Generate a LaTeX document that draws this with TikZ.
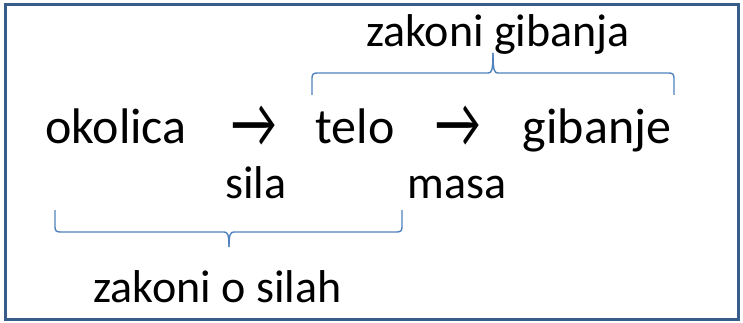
\documentclass[tikz,border=0pt]{standalone}
\usepackage{fontspec}
\usepackage{graphicx}
\setmainfont{Carlito}
\definecolor{frame}{RGB}{56,93,138}
\definecolor{brace}{RGB}{79,129,189}
\tikzset{
  big/.style={inner sep=0pt, anchor=base, font=\fontsize{50}{60}\selectfont},
  arrowsym/.style={inner sep=0pt, anchor=center, font=\fontsize{50}{60}\selectfont},
  small/.style={inner sep=0pt, anchor=base, font=\fontsize{46}{54}\selectfont},
  bracepath/.style={draw=brace, line width=1.4pt, line join=round}
}
\begin{document}
\begin{tikzpicture}[x=1pt,y=-1pt]
\useasboundingbox (0,0) rectangle (743,323);
\draw[frame, line width=3pt] (5,4.5) rectangle (738.5,319.5);
% main line
\node[big] (okolica) at (116,143) {okolica};
\node[arrowsym] (arr1) at (254,127) {\scalebox{1}[1.45]{→}};
\node[big] (telo) at (355,143) {telo};
\node[arrowsym] (arr2) at (458,127) {\scalebox{1}[1.45]{→}};
\node[big] (gibanje) at (597,143) {gibanje};
% labels
\node[small] (sila) at (256,198) {sila};
\node[small] (masa) at (457,198) {masa};
\node[small] (zg) at (498,47) {zakoni gibanja};
\node[small] (zs) at (217.5,302) {zakoni o silah};
% top brace
\draw[bracepath] (312,95) -- (312,78) .. controls (312,74.5) and (313.5,73) .. (317,73) -- (488,73) .. controls (491.5,73) and (493,71) .. (493,53);
\draw[bracepath] (674,95) -- (674,78) .. controls (674,74.5) and (672.5,73) .. (669,73) -- (498,73) .. controls (494.5,73) and (493,71) .. (493,53);
% bottom brace
\draw[bracepath] (55,210) -- (55,227) .. controls (55,230.5) and (56.5,232) .. (60,232) -- (224,232) .. controls (227.5,232) and (229,234) .. (229,247);
\draw[bracepath] (402,210) -- (402,227) .. controls (402,230.5) and (400.5,232) .. (397,232) -- (234,232) .. controls (230.5,232) and (229,234) .. (229,247);
\end{tikzpicture}
\end{document}
